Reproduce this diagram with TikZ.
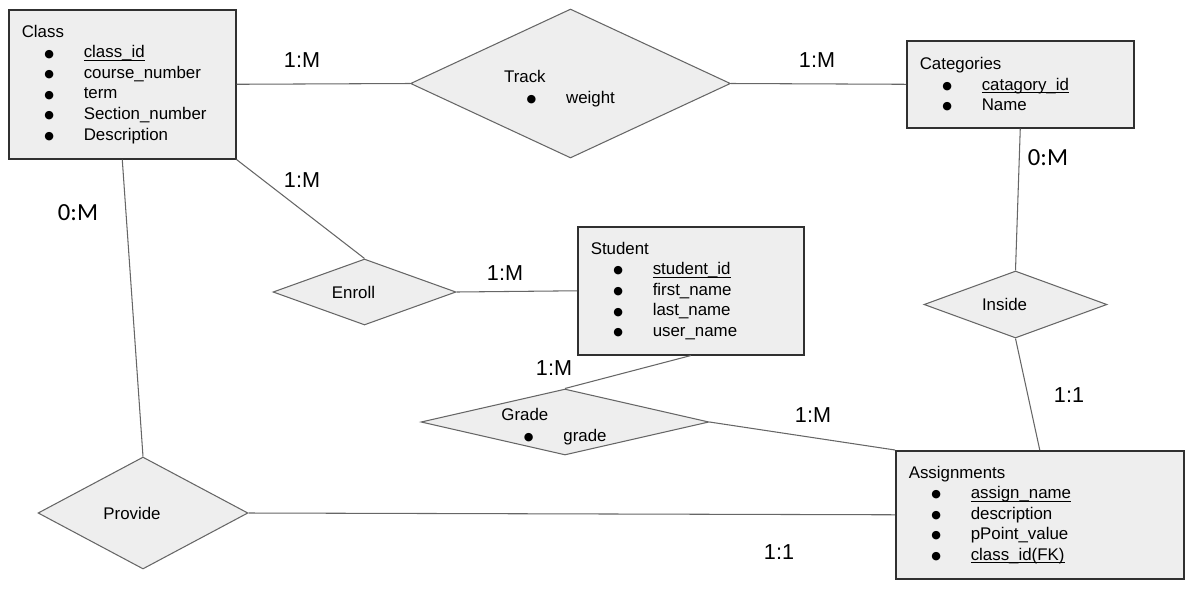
\documentclass[tikz,border=0pt]{standalone}
\usepackage{fontspec}
\setmainfont{Liberation Sans}
\newfontfamily\calfont{Carlito}
\newfontfamily\dotfont{DejaVu Sans}
\usetikzlibrary{shapes.geometric, positioning, calc}
\definecolor{boxfill}{HTML}{EEEEEE}
\definecolor{boxline}{HTML}{303030}
\definecolor{linkline}{HTML}{666666}
\newcommand{\attr}[1]{\\\makebox[1.24cm][l]{\hspace*{0.45cm}\raisebox{0.4pt}{\dotfont\fontsize{6.3}{6.3}\selectfont ●}}#1}
\newcommand{\keyattr}[1]{\underline{\smash{#1}}}
\newcommand{\lowtitle}{\rule{0pt}{12.5pt}}

\begin{document}
\begin{tikzpicture}[
    x=0.02cm, y=-0.02cm,
    entity/.style={
        rectangle, draw=boxline, line width=0.9pt, fill=boxfill,
        anchor=north west, align=left, inner xsep=0.26cm, inner ysep=0pt,
        font=\fontsize{9.6}{11.7}\selectfont
    },
    relation/.style={
        diamond, draw=linkline, line width=0.6pt, fill=boxfill,
        inner sep=-0.3cm, align=left,
        font=\fontsize{9.6}{11.7}\selectfont,
        execute at end node={\hspace*{0.44cm}}
    },
    link/.style={draw=linkline, line width=0.6pt},
    card/.style={font=\fontsize{12.3}{14}\selectfont},
    cardz/.style={font=\calfont\fontsize{14}{16}\selectfont}
]
\useasboundingbox (0,0) rectangle (1190,589);

% Entities
\node[entity, text width=4.02cm, minimum height=2.98cm] (class) at (8,9)
    {Class\attr{\keyattr{class\_id}}\attr{course\_number}\attr{term}\attr{Section\_number}\attr{Description}};
\node[entity, text width=4.02cm, minimum height=1.74cm] (categories) at (906,40)
    {Categories\attr{\keyattr{catagory\_id}}\attr{Name}};
\node[entity, text width=4.0cm, minimum height=2.56cm] (student) at (577,226)
    {Student\attr{\keyattr{student\_id}}\attr{first\_name}\attr{last\_name}\attr{user\_name}};
\node[entity, text width=5.24cm, minimum height=2.56cm] (assignments) at (895,450)
    {Assignments\attr{\keyattr{assign\_name}}\attr{description}\attr{pPoint\_value}\attr{\keyattr{class\_id(FK)}}};

% Relationships
\node[relation, aspect=2.15, minimum width=6.4cm, minimum height=2.98cm] (track) at (570.5,83.5)
    {\lowtitle Track\attr{weight}};
\node[relation, aspect=2.77, minimum width=3.66cm, minimum height=1.32cm] (enroll) at (364.5,292) {Enroll};
\node[relation, aspect=2.73, minimum width=3.66cm, minimum height=1.34cm] (inside) at (1015.5,304.5) {Inside};
\node[relation, aspect=4.36, minimum width=5.76cm, minimum height=1.32cm] (grade) at (565,422)
    {\lowtitle Grade\attr{grade}};
\node[relation, aspect=1.88, minimum width=4.2cm, minimum height=2.24cm] (provide) at (143,513) {Provide};

% Connections
\draw[link] (class.east) -- (track.west);
\draw[link] (track.east) -- (categories.west);
\draw[link] (class.south east) -- (enroll.north);
\draw[link] (enroll.east) -- (student.west);
\draw[link] (class.south) -- (provide.north);
\draw[link] (provide.east) -- (assignments.west);
\draw[link] (categories.south) -- (inside.north);
\draw[link] (inside.south) -- (assignments.north);
\draw[link] (student.south) -- (grade.north);
\draw[link] (grade.east) -- (assignments.north west);

% Cardinalities
\node[card] (c1) at (302,60) {1:M};
\node[card] (c2) at (817,60) {1:M};
\node[card] (c3) at (302,180) {1:M};
\node[cardz] (c4) at (78,213) {0:M};
\node[card] (c5) at (505,273) {1:M};
\node[cardz] (c6) at (1048,158) {0:M};
\node[card] (c7) at (554,368) {1:M};
\node[card] (c8) at (813,415) {1:M};
\node[card] (c9) at (1069,395) {1:1};
\node[card] (c10) at (779,552) {1:1};

\end{tikzpicture}
\end{document}
